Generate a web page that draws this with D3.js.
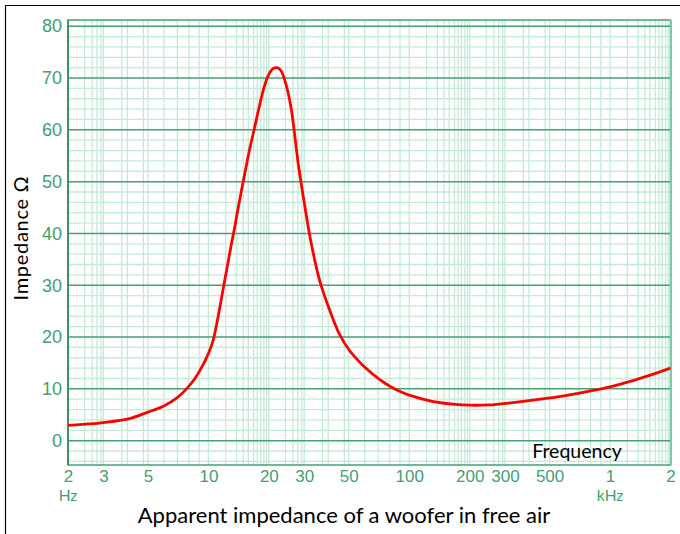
<html>
<head>
<meta charset="utf-8">
<title>Apparent impedance of a woofer in free air</title>
<style>
  body { margin: 0; background: #fff; }
  svg { display: block; font-family: Lato, "Open Sans", sans-serif; }
  .minor { stroke: #c4ead6; stroke-width: 1.3px; }
  .major { stroke: #45a173; stroke-width: 1.5px; }
  .curve { fill: none; stroke: #ff0000; stroke-width: 2.8px; }
  .axis text { fill: #3f9f6f; }
</style>
</head>
<body>
<script src="https://d3js.org/d3.v7.min.js"></script>
<script>

// curve (Hz, ohm)
var freqs = [2, 3, 4, 5, 6, 7, 7.7, 8.5, 9.3, 10, 10.5, 11, 11.5, 12, 12.5, 13, 13.5, 14, 15, 16, 17, 18, 19, 20, 21, 22, 23, 24, 25, 26, 27, 28, 30, 32, 34, 36, 40, 45, 50, 55, 60, 70, 80, 90, 100, 130, 170, 200, 250, 320, 450, 600, 800, 1000, 1300, 1600, 2000];
var ohms  = [2.95, 3.5, 4.2, 5.5, 6.7, 8.3, 9.8, 11.8, 14.3, 16.8, 19, 22.5, 26.5, 30.5, 34.2, 37.8, 41, 44.5, 50.5, 56, 60.5, 64.8, 68.4, 70.7, 71.8, 72, 71.4, 69.6, 67, 63.5, 58.5, 53.5, 46, 39.5, 34.5, 30.6, 25.4, 20.5, 17.6, 15.7, 14.2, 12.0, 10.5, 9.5, 8.8, 7.6, 7.0, 6.85, 6.9, 7.3, 8.0, 8.7, 9.6, 10.4, 11.6, 12.7, 14];

// axis ticks
var xTicks  = [2, 3, 5, 10, 20, 30, 50, 100, 200, 300, 500, 1000, 2000];
var xLabels = ["2", "3", "5", "10", "20", "30", "50", "100", "200", "300", "500", "1", "2"];
var yTicks  = [0, 10, 20, 30, 40, 50, 60, 70, 80];

// graph paper lines
var decades = [1, 10, 100, 1000];
var paperSteps = [1.22, 1.38, 1.49, 1.58, 1.68, 1.75, 1.82, 1.89, 1.95, 2, 2.42, 2.64, 2.79, 2.92, 3, 3.7, 3.95, 4.75, 5, 6, 7, 8, 9, 10];
var yMinor = [-4, -2, 2, 4, 6, 8, 12, 14, 16, 18, 22, 24, 26, 28, 32, 34, 36, 38, 42, 44, 46, 48, 52, 54, 56, 58, 62, 64, 66, 68, 72, 74, 76, 78];

var W = 680, H = 534;
var plotL = 68, plotR = 670.5, plotT = 20, plotB = 465;

var x = d3.scaleLog().domain([2, 2000]).range([plotL, plotR]);
var y = d3.scaleLinear().domain([-4.7, 81.2]).range([plotB, plotT]);

var svg = d3.select("body").append("svg")
    .attr("width", W)
    .attr("height", H);

// outer frame (only top and left show)
svg.append("path")
    .attr("d", "M5.5," + H + "V5.5H" + W)
    .attr("fill", "none")
    .attr("stroke", "#000")
    .attr("stroke-width", 1.2);

var xGrid = [];
decades.forEach(function(d) {
  paperSteps.forEach(function(s) {
    var v = d * s;
    if (v > 2.01 && v < 1999) xGrid.push(v);
  });
});

svg.append("g").selectAll("line")
    .data(xGrid)
  .enter().append("line")
    .attr("class", "minor")
    .attr("x1", function(d) { return x(d); })
    .attr("x2", function(d) { return x(d); })
    .attr("y1", plotT)
    .attr("y2", plotB);

svg.append("g").selectAll("line")
    .data(yMinor)
  .enter().append("line")
    .attr("class", "minor")
    .attr("x1", plotL)
    .attr("x2", plotR)
    .attr("y1", function(d) { return y(d); })
    .attr("y2", function(d) { return y(d); });

svg.append("g").selectAll("line")
    .data(yTicks)
  .enter().append("line")
    .attr("class", "major")
    .attr("x1", plotL)
    .attr("x2", plotR)
    .attr("y1", function(d) { return y(d); })
    .attr("y2", function(d) { return y(d); });

// plot border
svg.append("rect")
    .attr("x", plotL)
    .attr("y", plotT)
    .attr("width", plotR - plotL)
    .attr("height", plotB - plotT)
    .attr("fill", "none")
    .attr("stroke", "#45a173")
    .attr("stroke-width", 1.5);
svg.append("line")
    .attr("x1", plotR + 0.5).attr("x2", plotR + 0.5)
    .attr("y1", plotT).attr("y2", plotB)
    .attr("stroke", "#7ccaa2")
    .attr("stroke-width", 2);
svg.append("line")
    .attr("x1", plotL).attr("x2", plotL)
    .attr("y1", plotT).attr("y2", plotB)
    .attr("stroke", "#35975f")
    .attr("stroke-width", 2);

// y axis labels
var yAxis = svg.append("g")
    .attr("class", "axis")
    .attr("transform", "translate(" + (plotL - 4) + ",0)")
    .call(d3.axisLeft(y).tickValues(yTicks).tickSize(0).tickPadding(2));
yAxis.select(".domain").remove();
yAxis.selectAll("text").style("font-size", "18px");

// x axis labels
var xAxis = svg.append("g")
    .attr("class", "axis")
    .attr("transform", "translate(0," + plotB + ")")
    .call(d3.axisBottom(x).tickValues(xTicks).tickSize(0).tickPadding(5)
      .tickFormat(function(d, i) { return xLabels[i]; }));
xAxis.select(".domain").remove();
xAxis.selectAll("text").style("font-size", "17px");

svg.append("text")
    .attr("x", x(2)).attr("y", 501)
    .attr("text-anchor", "middle")
    .attr("fill", "#3f9f6f")
    .style("font-size", "15.5px")
    .text("Hz");
svg.append("text")
    .attr("x", x(1000)).attr("y", 501)
    .attr("text-anchor", "middle")
    .attr("fill", "#3f9f6f")
    .style("font-size", "15.5px")
    .text("kHz");

// impedance curve
var pts = freqs.map(function(f, i) { return [f, ohms[i]]; });
var line = d3.line()
    .x(function(d) { return x(d[0]); })
    .y(function(d) { return y(d[1]); })
    .curve(d3.curveCatmullRom.alpha(0.5));
svg.append("path")
    .datum(pts)
    .attr("class", "curve")
    .attr("d", line);

// labels
svg.append("text")
    .attr("x", 577).attr("y", 458)
    .attr("text-anchor", "middle")
    .style("font-size", "19.5px")
    .text("Frequency");

svg.append("text")
    .attr("transform", "translate(28,238) rotate(-90)")
    .attr("text-anchor", "middle")
    .style("font-size", "20px")
    .style("letter-spacing", "0.7px")
    .text("Impedance Ω");

svg.append("text")
    .attr("x", 344).attr("y", 523)
    .attr("text-anchor", "middle")
    .style("font-size", "22px")
    .text("Apparent impedance of a woofer in free air");

</script>
</body>
</html>
